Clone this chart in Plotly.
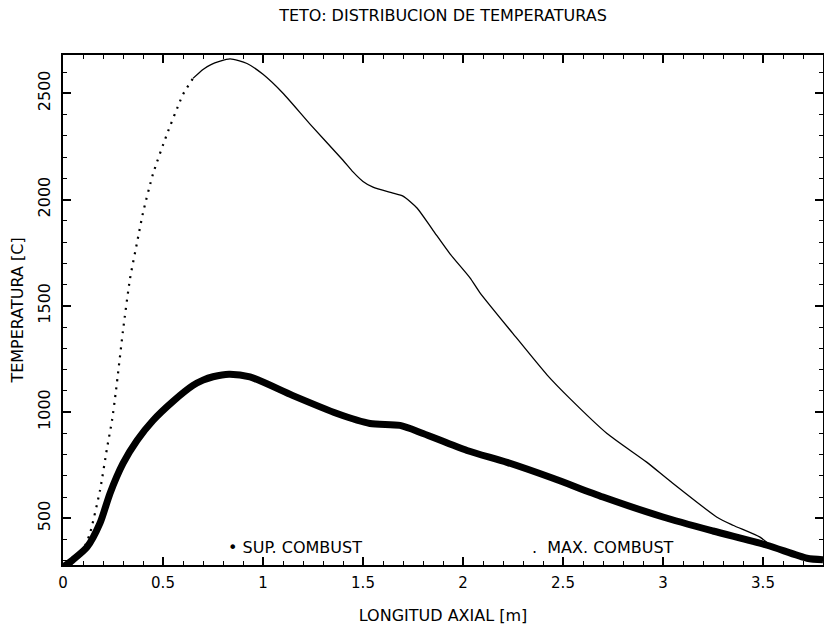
import plotly.graph_objects as go

# --- data ---
x_sup = [0.0, 0.05, 0.12, 0.185, 0.235, 0.30, 0.37, 0.45, 0.55, 0.65, 0.70, 0.75,
         0.83, 0.935, 1.15, 1.37, 1.535, 1.685, 1.8, 2.02, 2.22, 2.45, 2.7, 3.0,
         3.25, 3.52, 3.72, 3.8]
y_sup = [270, 305, 364, 477, 617, 758, 866, 960, 1050, 1125, 1150, 1166,
         1178, 1165, 1077, 993, 946, 937, 899, 819, 763, 688, 600, 506,
         440, 373, 312, 305]

x_max = [0.0, 0.05, 0.10, 0.135, 0.185, 0.22, 0.245, 0.265, 0.30, 0.335, 0.37,
         0.40, 0.45, 0.52, 0.585, 0.60, 0.65, 0.70, 0.74, 0.835, 0.92, 1.0, 1.1,
         1.235, 1.4, 1.45, 1.5, 1.55, 1.65, 1.7, 1.77, 1.85, 1.935, 2.035, 2.085,
         2.25, 2.42, 2.535, 2.72, 2.92, 3.035, 3.27, 3.35, 3.485, 3.55, 3.6,
         3.72, 3.8]
y_max = [270, 290, 350, 430, 631, 829, 960, 1101, 1383, 1627, 1796,
         1937, 2120, 2308, 2462, 2495, 2570, 2612, 2635, 2662, 2640, 2589, 2500,
         2355, 2185, 2130, 2085, 2058, 2030, 2016, 1960, 1855, 1744, 1631, 1561,
         1369, 1175, 1063, 899, 763, 675, 505, 467, 411, 364, 340,
         312, 305]

x_ticks = [0, 0.5, 1, 1.5, 2, 2.5, 3, 3.5]
x_tick_labels = ["0", "0.5", "1", "1.5", "2", "2.5", "3", "3.5"]
y_ticks = [500, 1000, 1500, 2000, 2500]
y_tick_labels = ["500", "1000", "1500", "2000", "2500"]

title_text = "TETO: DISTRIBUCION DE TEMPERATURAS"
x_title = "LONGITUD AXIAL [m]"
y_title = "TEMPERATURA [C]"
legend_sup = "\u2022 SUP. COMBUST"
legend_max = ".  MAX. COMBUST"

FONT = "DejaVu Sans"

# index where the steep (dotted-looking) rise of MAX ends
k = x_max.index(0.65)

fig = go.Figure()
fig.add_trace(go.Scatter(x=x_max[:k + 1], y=y_max[:k + 1], mode="lines",
                         line=dict(color="black", width=2.2, dash="2px,6px",
                                   shape="spline", smoothing=0.6),
                         showlegend=False, name="MAX. COMBUST"))
fig.add_trace(go.Scatter(x=x_max[k:], y=y_max[k:], mode="lines",
                         line=dict(color="black", width=1.3, shape="spline",
                                   smoothing=0.6),
                         showlegend=False, name="MAX. COMBUST"))
fig.add_trace(go.Scatter(x=x_sup, y=y_sup, mode="lines",
                         line=dict(color="black", width=7, shape="spline",
                                   smoothing=0.7),
                         showlegend=False, name="SUP. COMBUST"))

axis_common = dict(showline=True, linecolor="black", linewidth=2, mirror="ticks",
                   ticks="inside", ticklen=8, tickwidth=1.5, tickcolor="black",
                   showgrid=False, zeroline=False)

fig.update_xaxes(range=[0, 3.8], tickvals=x_ticks, ticktext=x_tick_labels,
                 tickfont=dict(family=FONT, size=15, color="black"),
                 ticklabelstandoff=3,
                 minor=dict(dtick=0.1, tick0=0, ticks="inside", ticklen=4,
                            tickwidth=1.2, tickcolor="black", showgrid=False),
                 title=dict(text=x_title, font=dict(family=FONT, size=16, color="black"),
                            standoff=19),
                 **axis_common)
fig.update_yaxes(range=[280, 2680], tickvals=y_ticks, ticktext=y_tick_labels,
                 tickangle=-90,
                 tickfont=dict(family=FONT, size=16, color="black"),
                 ticklabelstandoff=5,
                 minor=dict(dtick=100, tick0=0, ticks="inside", ticklen=4,
                            tickwidth=1.2, tickcolor="black", showgrid=False),
                 title=dict(text=y_title, font=dict(family=FONT, size=16, color="black"),
                            standoff=7),
                 **axis_common)

fig.add_annotation(text=legend_sup, xref="paper", yref="paper", x=0.2145, y=0.035,
                   xanchor="left", yanchor="middle", showarrow=False,
                   font=dict(family=FONT, size=16, color="black"))
fig.add_annotation(text=legend_max, xref="paper", yref="paper", x=0.6145, y=0.035,
                   xanchor="left", yanchor="middle", showarrow=False,
                   font=dict(family=FONT, size=16, color="black"))

fig.update_layout(
    width=824, height=625,
    margin=dict(l=63, r=1, t=55, b=60, autoexpand=False),
    paper_bgcolor="white", plot_bgcolor="white",
    title=dict(text=title_text, x=0.5, xref="paper", y=1 - 15 / 625,
               yanchor="middle", font=dict(family=FONT, size=16, color="black")),
)

fig.write_html("out.html")
